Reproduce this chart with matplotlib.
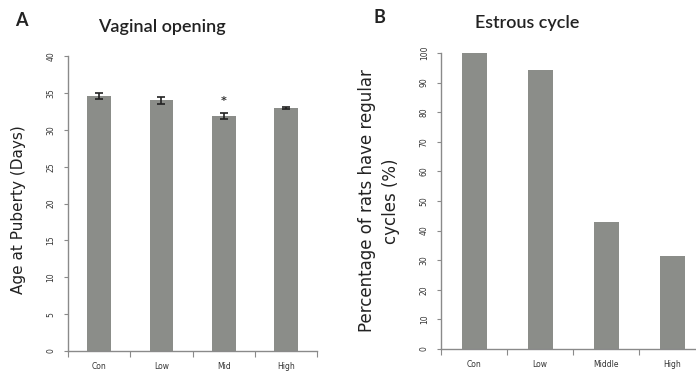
import matplotlib
matplotlib.use("Agg")
import matplotlib.pyplot as plt
import numpy as np

# Panel A: vaginal opening
groups_a = ["Con", "Low", "Mid", "High"]
age_days = [34.6, 34.0, 31.9, 33.0]
age_err = [0.4, 0.5, 0.4, 0.15]
star_group = "Mid"

# Panel B: estrous cycle
groups_b = ["Con", "Low", "Middle", "High"]
regular_pct = [100.0, 94.4, 42.9, 31.4]

BAR = "#8b8d89"
AXIS = "#8a8a8a"

fig = plt.figure(figsize=(6.96, 3.81), dpi=100)


def style_axes(ax, labels):
    for side in ("top", "right"):
        ax.spines[side].set_visible(False)
    for side in ("left", "bottom"):
        ax.spines[side].set_color(AXIS)
        ax.spines[side].set_linewidth(1.0)
    n = len(labels)
    ax.set_xlim(-0.5, n - 0.5)
    ax.set_xticks(np.arange(n + 1) - 0.5)
    ax.set_xticklabels([])
    ax.set_xticks(np.arange(n), minor=True)
    ax.set_xticklabels(labels, minor=True, fontsize=5.5, color="#333333")
    ax.tick_params(axis="x", which="major", direction="out", length=4, color=AXIS)
    ax.tick_params(axis="x", which="minor", length=0, pad=8)
    ax.tick_params(axis="y", direction="out", length=3, color=AXIS,
                   labelsize=5.5, labelcolor="#333333", pad=6)
    for t in ax.get_yticklabels():
        t.set_rotation(90)
        t.set_va("center")


# --- A ---
ax1 = fig.add_axes([0.0977, 0.0787, 0.358, 0.774])
x = np.arange(len(groups_a))
ax1.bar(x, age_days, width=0.38, color=BAR, zorder=2)
ax1.errorbar(x, age_days, yerr=age_err, fmt="none", ecolor="#222222",
             elinewidth=1.2, capsize=3, capthick=1.2, zorder=3)
ax1.set_ylim(0, 40)
ax1.set_yticks(np.arange(0, 41, 5))
style_axes(ax1, groups_a)
i = groups_a.index(star_group)
ax1.text(i, age_days[i] + age_err[i] + 1.6, "*", ha="center", va="center",
         fontsize=8, fontweight="bold", color="#333333")
ax1.set_ylabel("Age at Puberty (Days)", fontsize=11, color="#222222",
               family="DejaVu Sans")
ax1.yaxis.set_label_coords(-0.17, 0.48)

fig.text(0.03, 0.945, "A", fontsize=13, fontweight="bold", color="#222222",
         family="Lato", va="center", ha="center")
fig.text(0.232, 0.93, "Vaginal opening", fontsize=13, fontweight="semibold",
         color="#222222", family="Lato", va="center", ha="center")

# --- B ---
ax2 = fig.add_axes([0.634, 0.084, 0.379, 0.777])
x = np.arange(len(groups_b))
ax2.bar(x, regular_pct, width=0.38, color=BAR, zorder=2)
ax2.set_ylim(0, 100)
ax2.set_yticks(np.arange(0, 101, 10))
style_axes(ax2, groups_b)
ax2.set_ylabel("Percentage of rats have regular\ncycles (%)", fontsize=12,
               color="#222222", family="DejaVu Sans", linespacing=1.45)
ax2.yaxis.set_label_coords(-0.155, 0.5)

fig.text(0.545, 0.955, "B", fontsize=13, fontweight="bold", color="#222222",
         family="Lato", va="center", ha="center")
fig.text(0.758, 0.94, "Estrous cycle", fontsize=13, fontweight="semibold",
         color="#222222", family="Lato", va="center", ha="center")

fig.savefig("out.png", dpi=100)
